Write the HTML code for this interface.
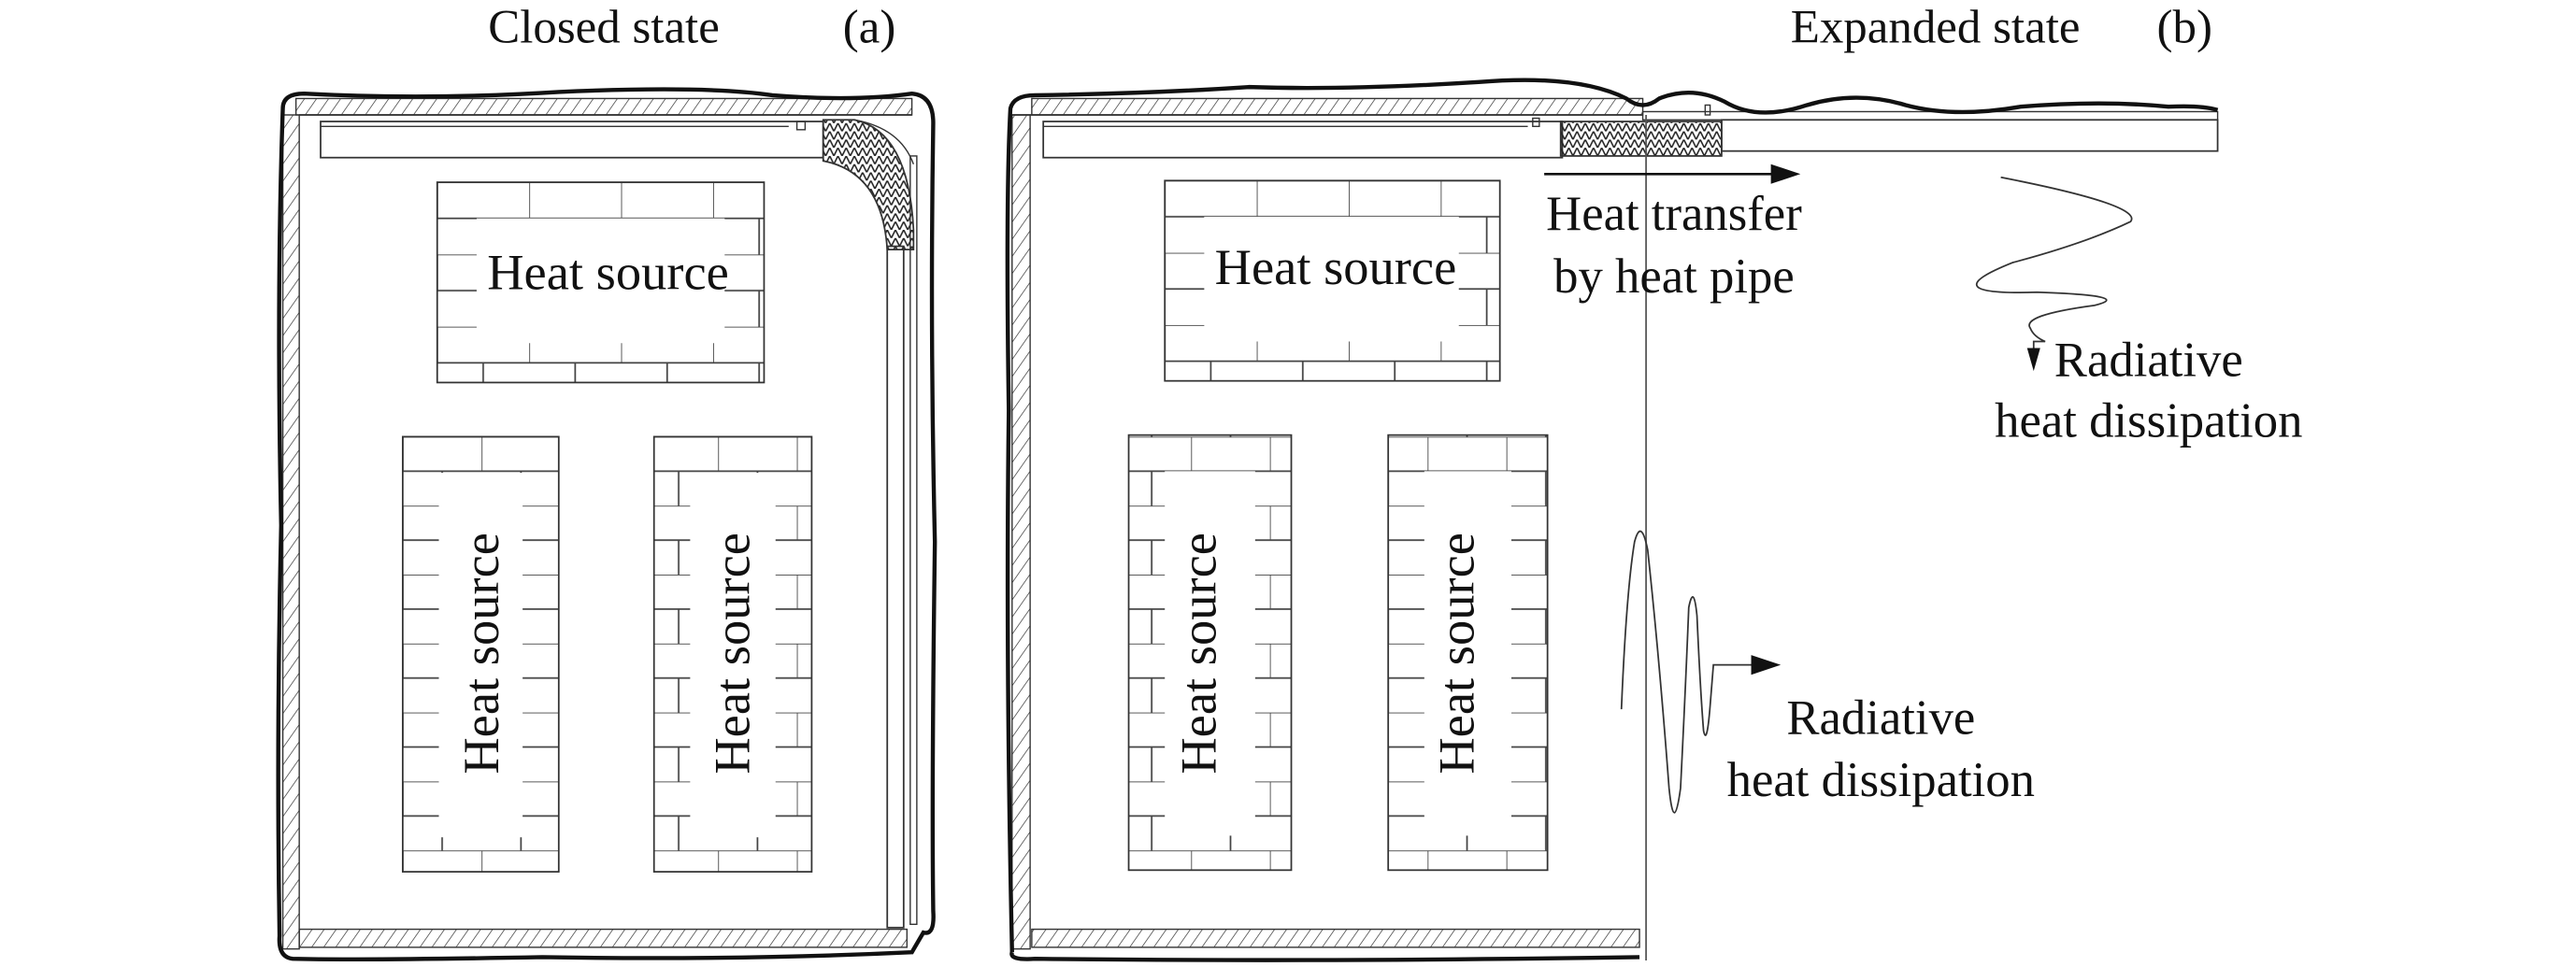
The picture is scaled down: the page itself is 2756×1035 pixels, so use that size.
<!DOCTYPE html>
<html><head><meta charset="utf-8"><style>
html,body{margin:0;padding:0;background:#fff;}
svg{display:block;}
text{font-family:"Liberation Serif",serif;fill:#111;}
</style></head><body>
<svg width="2756" height="1035" viewBox="0 0 1568 589" xmlns="http://www.w3.org/2000/svg">
<defs>
<pattern id="hatch" width="6" height="6" patternUnits="userSpaceOnUse" patternTransform="rotate(35)">
<line x1="0" y1="0" x2="0" y2="6" stroke="#333" stroke-width="0.8"/>
</pattern>
<pattern id="mesh" width="5" height="5" patternUnits="userSpaceOnUse">
<path d="M0 0 L2.5 5 L5 0" fill="none" stroke="#222" stroke-width="0.9"/>
</pattern>
<pattern id="brickH" x="266" y="111" width="56" height="44" patternUnits="userSpaceOnUse">
<path d="M0 0H56M0 22H56M0 0V22M28 22V44" stroke="#444" stroke-width="1" fill="none"/>
</pattern>
<pattern id="brickH2" x="709" y="110" width="56" height="44" patternUnits="userSpaceOnUse">
<path d="M0 0H56M0 22H56M0 0V22M28 22V44" stroke="#444" stroke-width="1" fill="none"/>
</pattern>
<pattern id="brickV" x="245" y="266" width="48" height="42" patternUnits="userSpaceOnUse">
<path d="M0 0H48M0 21H48M0 0V21M24 21V42" stroke="#444" stroke-width="1" fill="none"/>
</pattern>
</defs>

<!-- Titles -->
<text x="297" y="26" font-size="29">Closed state</text>
<text x="513" y="26" font-size="29">(a)</text>
<text x="1090" y="26" font-size="29">Expanded state</text>
<text x="1313" y="26" font-size="29">(b)</text>

<!-- ===== Panel A ===== -->
<rect x="180" y="60" width="375" height="10" fill="url(#hatch)" stroke="#333" stroke-width="0.8"/>
<rect x="172" y="70" width="10" height="508" fill="url(#hatch)" stroke="#333" stroke-width="0.8"/>
<rect x="182" y="566" width="370" height="11" fill="url(#hatch)" stroke="#333" stroke-width="0.8"/>
<line x1="182" y1="70" x2="555" y2="70" stroke="#333" stroke-width="1"/>
<rect x="195" y="74" width="306" height="22" fill="none" stroke="#333" stroke-width="1"/>
<line x1="195" y1="77" x2="480" y2="77" stroke="#333" stroke-width="0.8"/>
<rect x="485" y="74" width="5" height="5" fill="none" stroke="#333" stroke-width="0.8"/>
<path d="M501 73 L520 73 Q553 80 556 140 L556 152 L540 152 Q537 105 501 98 Z" fill="url(#mesh)" stroke="#333" stroke-width="1"/>
<path d="M520 73 Q548 78 556 100" fill="none" stroke="#333" stroke-width="0.8"/>
<rect x="540" y="150" width="10" height="415" fill="none" stroke="#333" stroke-width="1"/>
<rect x="554" y="95" width="4" height="468" fill="none" stroke="#333" stroke-width="0.8"/>
<path d="M172 66 Q172 57 185 57 Q260 61 340 56 Q430 52 470 58 Q520 62 555 57 Q568 58 568 75 Q566 200 569 330 Q567 480 568 555 Q569 570 562 568 L555 580 Q450 585 330 583 Q220 585 178 584 Q169 583 170 570 Q168 450 171 320 Q168 180 172 66 Z" fill="none" stroke="#111" stroke-width="2.5"/>

<!-- heat source top A -->
<rect x="266" y="111" width="199" height="122" fill="url(#brickH)" stroke="#333" stroke-width="1"/>
<rect x="290" y="133" width="151" height="76" fill="#fff"/>
<text x="370" y="176" font-size="31" text-anchor="middle">Heat source</text>
<!-- vertical A -->
<rect x="245" y="266" width="95" height="265" fill="url(#brickV)" stroke="#333" stroke-width="1"/>
<rect x="267" y="288" width="51" height="222" fill="#fff"/>
<rect x="398" y="266" width="96" height="265" fill="url(#brickV)" stroke="#333" stroke-width="1"/>
<rect x="420" y="288" width="52" height="222" fill="#fff"/>
<text transform="translate(303,398) rotate(-90)" font-size="31" text-anchor="middle">Heat source</text>
<text transform="translate(456,398) rotate(-90)" font-size="31" text-anchor="middle">Heat source</text>

<!-- ===== Panel B ===== -->
<rect x="628" y="60" width="372" height="10" fill="url(#hatch)" stroke="#333" stroke-width="0.8"/>
<rect x="616" y="70" width="11" height="508" fill="url(#hatch)" stroke="#333" stroke-width="0.8"/>
<rect x="628" y="566" width="370" height="11" fill="url(#hatch)" stroke="#333" stroke-width="0.8"/>
<line x1="616" y1="70" x2="1000" y2="70" stroke="#333" stroke-width="1"/>
<rect x="635" y="74" width="316" height="22" fill="none" stroke="#333" stroke-width="1"/>
<line x1="635" y1="77" x2="930" y2="77" stroke="#333" stroke-width="0.8"/>
<rect x="950" y="74" width="98" height="21" fill="url(#mesh)" stroke="#333" stroke-width="1"/>
<rect x="1000" y="68" width="350" height="5" fill="none" stroke="#333" stroke-width="0.8"/>
<rect x="1048" y="73" width="302" height="19" fill="none" stroke="#333" stroke-width="1"/>
<line x1="1002" y1="70" x2="1002" y2="585" stroke="#555" stroke-width="1"/>
<rect x="933" y="72" width="4" height="5" fill="none" stroke="#333" stroke-width="0.8"/>
<rect x="1038" y="64" width="3" height="6" fill="none" stroke="#333" stroke-width="0.8"/>
<path d="M616 580 Q612 400 614 250 Q612 120 615 66 Q617 58 630 58 Q700 57 760 53 Q820 55 900 50 Q960 45 990 60 Q1000 68 1010 60 Q1030 52 1050 62 Q1070 74 1100 64 Q1130 55 1160 64 Q1190 72 1230 65 Q1280 61 1320 65 Q1340 64 1350 67" fill="none" stroke="#111" stroke-width="2.5"/>
<path d="M616 580 Q614 585 630 584 Q800 586 998 583" fill="none" stroke="#111" stroke-width="2.5"/>

<!-- heat sources B -->
<rect x="709" y="110" width="204" height="122" fill="url(#brickH2)" stroke="#333" stroke-width="1"/>
<rect x="733" y="132" width="155" height="76" fill="#fff"/>
<text x="813" y="173" font-size="31" text-anchor="middle">Heat source</text>
<rect x="687" y="265" width="99" height="265" fill="url(#brickV)" stroke="#333" stroke-width="1"/>
<rect x="709" y="287" width="55" height="222" fill="#fff"/>
<rect x="845" y="265" width="97" height="265" fill="url(#brickV)" stroke="#333" stroke-width="1"/>
<rect x="867" y="287" width="53" height="222" fill="#fff"/>
<text transform="translate(740,398) rotate(-90)" font-size="31" text-anchor="middle">Heat source</text>
<text transform="translate(897,398) rotate(-90)" font-size="31" text-anchor="middle">Heat source</text>

<!-- heat transfer arrow -->
<line x1="940" y1="106" x2="1082" y2="106" stroke="#111" stroke-width="1.5"/>
<path d="M1078 100 L1096 106 L1078 112 Z" fill="#111"/>
<text x="1019" y="140" font-size="30" text-anchor="middle">Heat transfer</text>
<text x="1019" y="178" font-size="30" text-anchor="middle">by heat pipe</text>

<!-- radiative top right -->
<path d="M1218 108 Q1305 125 1297 135 Q1270 148 1225 160 Q1175 180 1240 178 Q1300 180 1275 186 Q1230 192 1236 200 Q1238 205 1245 208 L1238 208 L1238 214" fill="none" stroke="#333" stroke-width="1"/>
<path d="M1234 212 L1242 212 L1238 226 Z" fill="#111"/>
<text x="1308" y="229" font-size="30" text-anchor="middle">Radiative</text>
<text x="1308" y="266" font-size="30" text-anchor="middle">heat dissipation</text>

<!-- radiative bottom -->
<path d="M987 432 Q990 360 995 330 Q999 315 1003 335 Q1010 400 1016 480 Q1019 510 1023 480 Q1026 420 1028 370 Q1031 355 1033 375 Q1035 420 1037 445 Q1039 455 1041 430 L1043 405 L1068 405" fill="none" stroke="#333" stroke-width="1"/>
<path d="M1066 399 L1066 411 L1084 405 Z" fill="#111"/>
<text x="1145" y="447" font-size="30" text-anchor="middle">Radiative</text>
<text x="1145" y="485" font-size="30" text-anchor="middle">heat dissipation</text>
</svg>
</body></html>
